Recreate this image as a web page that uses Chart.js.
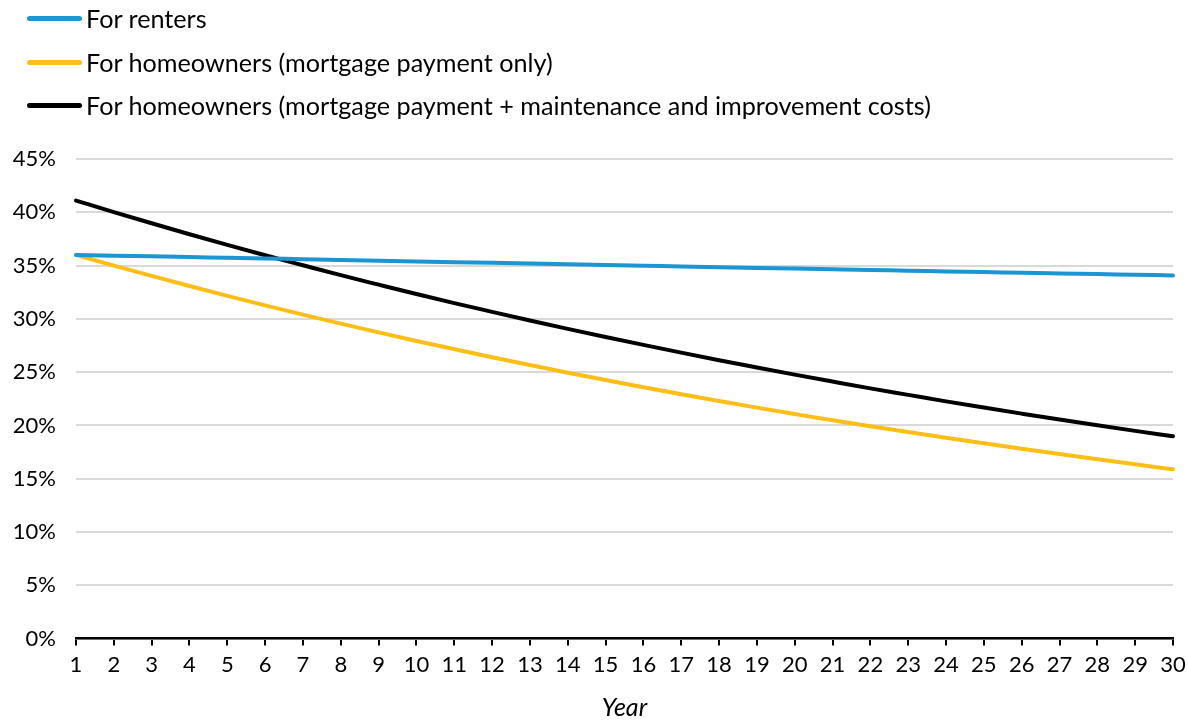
<!DOCTYPE html>
<html>
<head>
<meta charset="utf-8">
<script src="https://cdn.jsdelivr.net/npm/chart.js@4.4.1/dist/chart.umd.min.js"></script>
<style>
    body { margin: 0; background: #fff; font-family: Lato, sans-serif; }
    #wrap { position: relative; width: 1188px; height: 723px; }
    #legend { position: absolute; left: 0; top: 0; }
    .item { position: absolute; left: 27px; height: 30px; display: flex; align-items: center; white-space: nowrap;
            font-size: 25.2px; color: #000; }
    .item span.mark { display: inline-block; width: 55px; height: 5px; border-radius: 3px; margin-right: 4px; }
</style>
</head>
<body>
<div id="wrap">
    <canvas id="chart" width="1188" height="723"></canvas>
    <div id="legend"></div>
</div>
<script>
// anos 1..30
const years = ['1','2','3','4','5','6','7','8','9','10','11','12','13','14','15',
               '16','17','18','19','20','21','22','23','24','25','26','27','28','29','30'];

const seriesNames = [
    'For renters',
    'For homeowners (mortgage payment only)',
    'For homeowners (mortgage payment + maintenance and improvement costs)'
];

// valores em %
const renters = [36.0, 35.93, 35.87, 35.8, 35.73, 35.66, 35.6, 35.53, 35.46, 35.39,
                 35.32, 35.26, 35.19, 35.12, 35.05, 34.98, 34.92, 34.85, 34.78, 34.72,
                 34.65, 34.58, 34.52, 34.45, 34.39, 34.32, 34.26, 34.2, 34.14, 34.08];

const mortgageOnly = [36.0, 35.0, 34.03, 33.08, 32.16, 31.27, 30.40, 29.55, 28.73, 27.93,
                      27.16, 26.40, 25.67, 24.95, 24.26, 23.58, 22.93, 22.29, 21.67, 21.07,
                      20.48, 19.92, 19.38, 18.85, 18.33, 17.82, 17.32, 16.83, 16.35, 15.88];

const mortgagePlusMaint = [41.1, 40.02, 38.97, 37.94, 36.94, 35.97, 35.03, 34.10, 33.21, 32.33,
                           31.48, 30.66, 29.85, 29.06, 28.30, 27.56, 26.83, 26.12, 25.44, 24.77,
                           24.12, 23.48, 22.87, 22.26, 21.68, 21.11, 20.55, 20.01, 19.49, 18.98];

const colors = ['#1b96d3', '#fdbe17', '#000000'];

Chart.defaults.font.family = 'Lato, sans-serif';
Chart.defaults.color = '#000';

const ctx = document.getElementById('chart').getContext('2d');
const chart = new Chart(ctx, {
    type: 'line',
    data: {
        labels: years,
        datasets: [renters, mortgageOnly, mortgagePlusMaint].map((d, i) => ({
            label: seriesNames[i],
            data: d,
            borderColor: colors[i],
            backgroundColor: colors[i],
            borderWidth: 4,
            borderCapStyle: 'round',
            pointRadius: 0,
            fill: false,
            cubicInterpolationMode: 'monotone',
            clip: false
        }))
    },
    options: {
        responsive: false,
        animation: false,
        layout: { padding: { top: 159, right: 0, left: 0, bottom: 0 } },
        plugins: {
            legend: { display: false },
            tooltip: { enabled: false }
        },
        scales: {
            x: {
                offset: false,
                afterFit: s => { s.paddingRight = 15; },
                grid: { display: true, drawOnChartArea: false, drawTicks: true, tickLength: 7, color: '#000', lineWidth: 2 },
                border: { display: true, color: '#000', width: 2.5 },
                ticks: { autoSkip: false, maxRotation: 0, padding: 6, font: { size: 22 } },
                title: { display: true, text: 'Year', padding: { top: 9, bottom: 0 }, font: { size: 25, style: 'italic' } }
            },
            y: {
                min: 0,
                max: 45,
                afterFit: s => { s.width = 76; },
                grid: { color: '#d9d9d9', lineWidth: 2, drawTicks: false },
                border: { display: false },
                ticks: { stepSize: 5, padding: 20, font: { size: 22 }, callback: v => v + '%' }
            }
        }
    }
});

// legenda em html, uma linha por serie
const legend = document.getElementById('legend');
const rowY = [18, 62, 105];
chart.data.datasets.forEach((ds, i) => {
    const div = document.createElement('div');
    div.className = 'item';
    div.style.top = (rowY[i] - 15) + 'px';
    div.innerHTML = '<span class="mark" style="background:' + ds.borderColor + '"></span>' + ds.label;
    legend.appendChild(div);
});
</script>
</body>
</html>
